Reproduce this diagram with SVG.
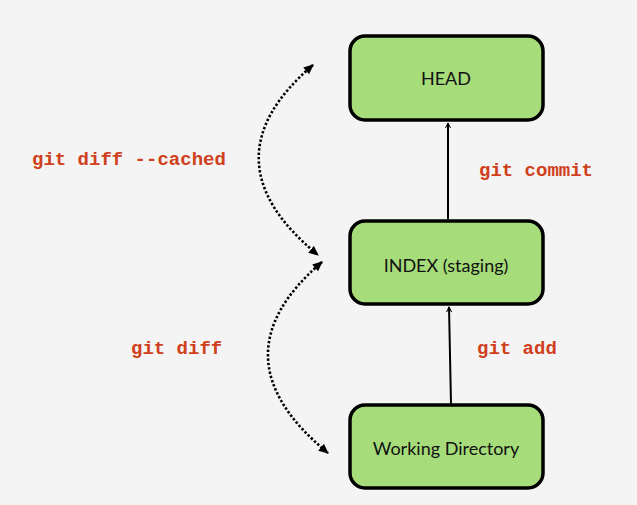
<svg xmlns="http://www.w3.org/2000/svg" width="637" height="505" viewBox="0 0 637 505">
<style>
.box{fill:#a6dc7a;stroke:#000;stroke-width:3.5}
.lbl{font-family:Lato,"Open Sans",sans-serif;font-size:18px;fill:#111;text-anchor:middle}
.cmd{font-family:"Liberation Mono","Courier New",monospace;font-size:19px;font-weight:bold;fill:#d0401c}
.solid{stroke:#000;stroke-width:2;fill:none}
.dot{stroke:#000;stroke-width:2.6;fill:none;stroke-dasharray:2.4 2}
</style>
<defs>
<marker id="open" markerWidth="8" markerHeight="8" refX="6" refY="3" orient="auto" markerUnits="userSpaceOnUse">
<path d="M1,0.5 L6,3 L1,5.5" fill="none" stroke="#000" stroke-width="1"/>
</marker>
<marker id="tri" markerWidth="12" markerHeight="12" refX="9" refY="4.5" orient="auto" markerUnits="userSpaceOnUse">
<path d="M0,0 L10,4.5 L0,9 z" fill="#000"/>
</marker>
<marker id="tris" markerWidth="12" markerHeight="12" refX="1" refY="4.5" orient="auto" markerUnits="userSpaceOnUse">
<path d="M10,0 L0,4.5 L10,9 z" fill="#000"/>
</marker>
</defs>
<rect width="637" height="505" fill="#f4f4f4"/>
<g id="connectors">
<line class="solid" x1="448" y1="219" x2="448" y2="123" marker-end="url(#open)"/>
<line class="solid" x1="451" y1="404" x2="449" y2="307" marker-end="url(#open)"/>
<path class="dot" d="M313,65 Q202,160 318,255" marker-start="url(#tris)" marker-end="url(#tri)"/>
<path class="dot" d="M322,262 Q211,357 328,453" marker-start="url(#tris)" marker-end="url(#tri)"/>
</g>
<g id="head">
<rect class="box" x="350" y="36" width="193" height="84" rx="15"/>
<text class="lbl" x="446" y="85">HEAD</text>
</g>
<g id="index">
<rect class="box" x="350" y="221" width="193" height="83" rx="15"/>
<text class="lbl" x="446" y="272">INDEX (staging)</text>
</g>
<g id="working">
<rect class="box" x="350" y="405" width="193" height="83" rx="15"/>
<text class="lbl" x="446" y="455">Working Directory</text>
</g>
<g id="labels">
<text class="cmd" x="32" y="165">git diff --cached</text>
<text class="cmd" x="479" y="176">git commit</text>
<text class="cmd" x="131" y="354">git diff</text>
<text class="cmd" x="477" y="354">git add</text>
</g>
</svg>
